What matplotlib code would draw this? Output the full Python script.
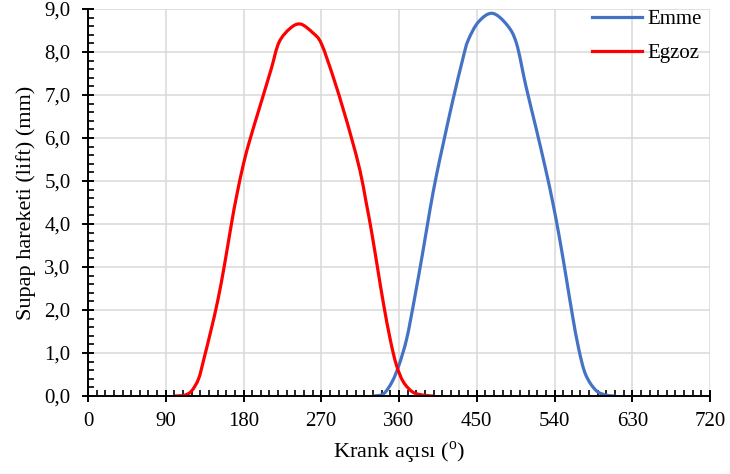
import matplotlib
matplotlib.use("Agg")
import matplotlib.pyplot as plt
from matplotlib.lines import Line2D
from matplotlib.patches import PathPatch
from matplotlib.path import Path
from matplotlib.ticker import MultipleLocator, FuncFormatter

# Emme (intake) valve lift
emme_aci = [330, 342, 352, 360, 369, 378, 388, 396, 403, 411, 422, 434, 440,
            452, 468, 485, 496, 507, 519, 530, 538, 546, 554, 561, 568, 576,
            588, 600, 610]
emme_lift = [0.0, 0.05, 0.33, 0.72, 1.34, 2.27, 3.4, 4.35, 5.1, 5.85, 6.85,
             7.85, 8.27, 8.7, 8.9, 8.63, 8.2, 7.2, 6.2, 5.25, 4.5, 3.65,
             2.7, 1.85, 1.1, 0.5, 0.13, 0.02, 0.0]

# Egzoz (exhaust) valve lift
egzoz_aci = [100, 112, 120, 128, 134, 142, 150, 158, 166, 172, 180, 188, 200,
             212, 221, 234, 246, 260, 270, 284, 296, 305, 315, 322, 328, 335,
             342, 350, 357, 365, 376, 388, 400]
egzoz_lift = [0.0, 0.02, 0.12, 0.4, 0.85, 1.5, 2.2, 3.05, 4.0, 4.65, 5.4,
              6.0, 6.8, 7.6, 8.22, 8.55, 8.65, 8.45, 8.2, 7.41, 6.63, 6.0,
              5.23, 4.5, 3.85, 3.0, 2.15, 1.3, 0.72, 0.33, 0.09, 0.02, 0.0]

EMME_RENK = "#4472C4"
EGZOZ_RENK = "#FF0000"


def smooth_path(xs, ys):
    """Excel-like smoothed line: Catmull-Rom segments as cubic Bezier curves."""
    verts = [(xs[0], ys[0])]
    codes = [Path.MOVETO]
    n = len(xs)
    for i in range(n - 1):
        x0, y0 = xs[max(i - 1, 0)], ys[max(i - 1, 0)]
        x1, y1 = xs[i], ys[i]
        x2, y2 = xs[i + 1], ys[i + 1]
        x3, y3 = xs[min(i + 2, n - 1)], ys[min(i + 2, n - 1)]
        c1 = (x1 + (x2 - x0) / 6, y1 + (y2 - y0) / 6)
        c2 = (x2 - (x3 - x1) / 6, y2 - (y3 - y1) / 6)
        verts += [c1, c2, (x2, y2)]
        codes += [Path.CURVE4] * 3
    return Path(verts, codes)


plt.rcParams["font.family"] = ["Liberation Serif", "DejaVu Serif"]
plt.rcParams["mathtext.fontset"] = "custom"
plt.rcParams["mathtext.rm"] = "Liberation Serif"

fig = plt.figure(figsize=(7.3, 4.74), dpi=100)
ax = fig.add_axes([88 / 730, 1 - 396 / 474, 622 / 730, 387 / 474])

for xs, ys, renk in [(emme_aci, emme_lift, EMME_RENK),
                     (egzoz_aci, egzoz_lift, EGZOZ_RENK)]:
    patch = PathPatch(smooth_path(xs, ys), facecolor="none", edgecolor=renk,
                      linewidth=2.3, capstyle="round", joinstyle="round",
                      transform=ax.transData, zorder=3)
    ax.add_patch(patch)

ax.set_xlim(0, 720)
ax.set_ylim(0, 9)
ax.xaxis.set_major_locator(MultipleLocator(90))
ax.xaxis.set_minor_locator(MultipleLocator(10))
ax.yaxis.set_major_locator(MultipleLocator(1))
ax.yaxis.set_minor_locator(MultipleLocator(0.2))
ax.yaxis.set_major_formatter(FuncFormatter(lambda v, p: f"{v:.1f}".replace(".", ",")))

ax.grid(True, which="major", color="#D9D9D9", linewidth=1.1)
ax.set_axisbelow(True)
for side in ["top", "right"]:
    ax.spines[side].set_visible(False)
for side in ["left", "bottom"]:
    ax.spines[side].set_linewidth(1.4)
    ax.spines[side].set_zorder(4)

ax.tick_params(which="major", direction="inout", length=9, width=1.4,
               labelsize=15, colors="black")
ax.tick_params(axis="x", which="major", pad=7)
ax.tick_params(axis="y", which="major", pad=8)
ax.tick_params(which="minor", direction="in", length=4, width=1.2)

ax.set_xlabel(r"Krank açısı ($^{\rm o}$)", fontsize=16, labelpad=6)
ax.set_ylabel("Supap hareketi (lift) (mm)", fontsize=16, labelpad=6)

handles = [Line2D([], [], color=EMME_RENK, linewidth=2.3),
           Line2D([], [], color=EGZOZ_RENK, linewidth=2.3)]
ax.legend(handles, ["Emme", "Egzoz"], loc="upper right", frameon=False,
          fontsize=15, handlelength=2.4, handletextpad=0.25, labelspacing=0.7,
          borderaxespad=0.0, bbox_to_anchor=(1.0, 1.02))

fig.savefig("out.png", dpi=100)
